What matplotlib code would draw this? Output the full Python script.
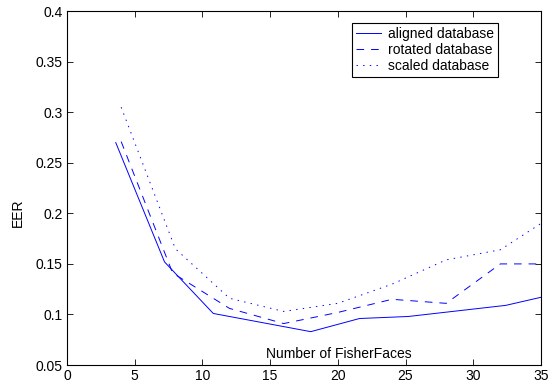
import matplotlib
matplotlib.use("Agg")
import matplotlib.pyplot as plt

plt.rcParams['font.family'] = ['Liberation Sans', 'DejaVu Sans']
plt.rcParams['lines.scale_dashes'] = False

# values
x_aligned = [3.6, 7.2, 10.8, 14.4, 18.0, 21.6, 25.2, 28.8, 32.4, 35.0]
eer_aligned = [0.270, 0.152, 0.101, 0.092, 0.083, 0.096, 0.098, 0.1035, 0.109, 0.117]

x_rotated = [4, 7.8, 12, 16, 20, 24, 28, 32, 35]
eer_rotated = [0.271, 0.141, 0.106, 0.091, 0.102, 0.115, 0.111, 0.150, 0.150]

x_scaled = [4, 8, 12, 16, 20, 24, 28, 32, 35]
eer_scaled = [0.305, 0.165, 0.116, 0.103, 0.111, 0.130, 0.154, 0.164, 0.190]

labels = ['aligned database', 'rotated database', 'scaled database']
xticks = [0, 5, 10, 15, 20, 25, 30, 35]
yticks = [0.05, 0.1, 0.15, 0.2, 0.25, 0.3, 0.35, 0.4]

fig = plt.figure(figsize=(5.56, 3.87), dpi=100)
ax = fig.add_axes([0.1205, 0.0568, 0.8525, 0.9144])

blue = '#0000ff'
ax.plot(x_aligned, eer_aligned, color=blue, lw=0.7, label=labels[0])
ax.plot(x_rotated, eer_rotated, color=blue, lw=0.7, dashes=(5.5, 5.0), label=labels[1])
ax.plot(x_scaled, eer_scaled, color=blue, lw=0.7, dashes=(1.0, 3.8), label=labels[2])

ax.set_xlim(0, 35)
ax.set_ylim(0.05, 0.4)
ax.set_xticks(xticks)
ax.set_xticklabels([str(t) for t in xticks])
ax.set_yticks(yticks)
ax.set_yticklabels(['0.05', '0.1', '0.15', '0.2', '0.25', '0.3', '0.35', '0.4'])
ax.tick_params(direction='in', length=4, width=0.6, labelsize=10, top=True, right=True, pad=3)
for s in ax.spines.values():
    s.set_linewidth(0.8)

ax.text(0.573, 0.031, 'Number of FisherFaces', transform=ax.transAxes,
        ha='center', va='center', fontsize=10)
ax.set_ylabel('EER', fontsize=10)
ax.yaxis.set_label_coords(-0.088, 0.43)

leg = ax.legend(loc='upper right', bbox_to_anchor=(0.91, 0.967), borderaxespad=0,
                fontsize=10, fancybox=False, edgecolor='black', framealpha=1,
                handlelength=1.8, handletextpad=0.5, borderpad=0.3, labelspacing=0.15)
leg.get_frame().set_linewidth(0.8)

fig.savefig('out.png', dpi=100)
